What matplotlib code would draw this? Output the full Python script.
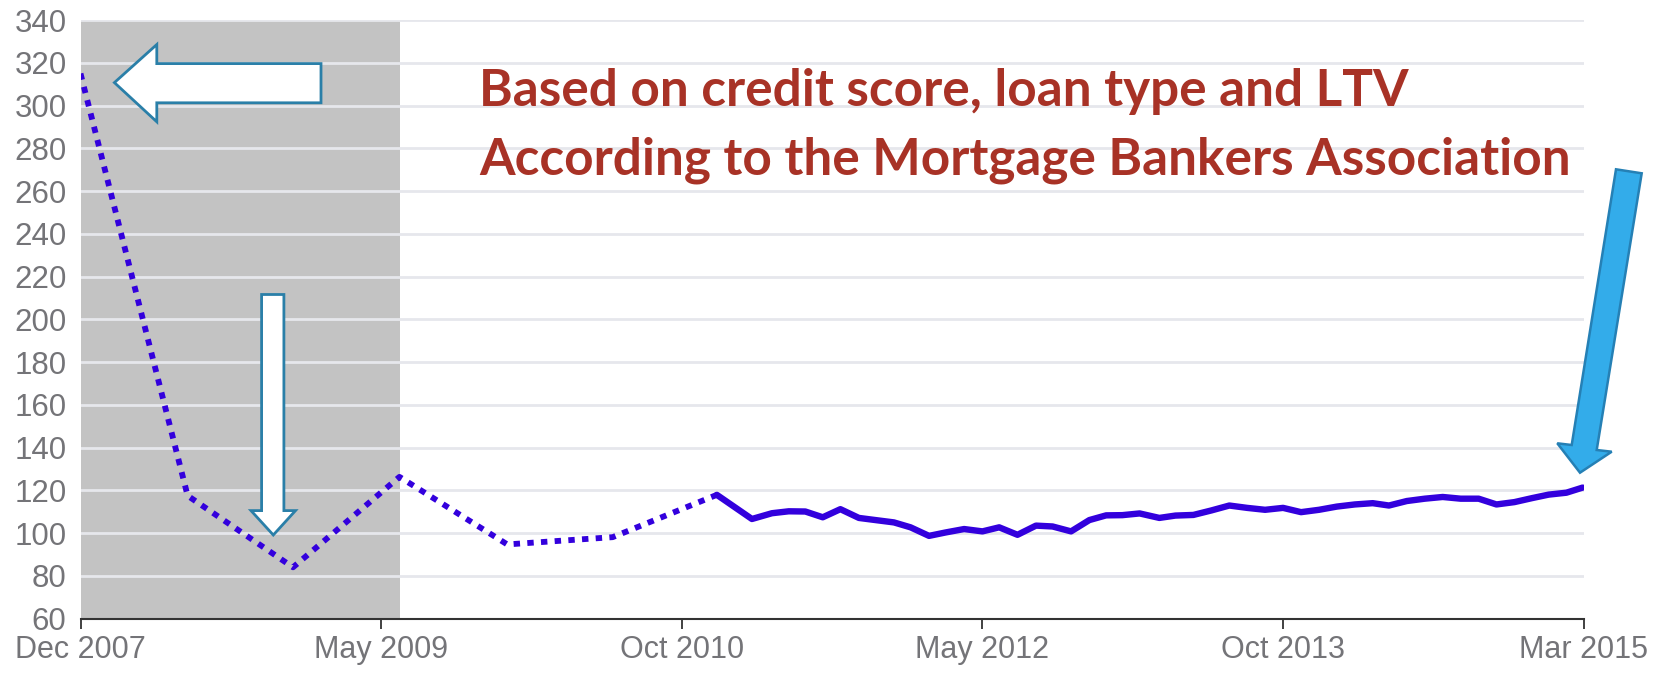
import matplotlib
matplotlib.use('Agg')
import matplotlib.pyplot as plt
from matplotlib.patches import Polygon
import numpy as np

# x = months on the chart's scale, 0 = Dec 2007, 87 = Mar 2015
dotted_x = [0.0, 6.2, 12.3, 18.46, 24.7, 30.8, 36.83]
dotted_y = [315, 117.5, 84, 126.3, 94.7, 98.1, 117.9]

solid_x = [36.83, 38.86, 40.02, 40.99, 41.95, 42.96, 43.98, 45.05, 46.01, 47.08,
           48.04, 49.11, 50.07, 51.14, 52.2, 53.17, 54.23, 55.3, 56.26, 57.33,
           58.39, 59.36, 60.3, 61.3, 62.44, 63.37, 64.41, 65.45, 66.49, 67.52,
           68.56, 69.6, 70.64, 71.68, 72.71, 73.75, 74.79, 75.73, 76.76, 77.8,
           78.84, 79.88, 80.92, 81.95, 82.99, 84.03, 84.97, 86.0, 86.94]
solid_y = [117.9, 106.6, 109.3, 110.2, 110.1, 107.4, 111.2, 107.1, 106.1, 105.0,
           102.7, 98.7, 100.3, 101.9, 100.8, 102.7, 99.2, 103.5, 103.1, 100.8,
           106.1, 108.3, 108.4, 109.2, 107.1, 108.2, 108.5, 110.6, 112.9, 111.8,
           110.9, 111.8, 109.8, 110.9, 112.4, 113.4, 114.0, 112.9, 115.0, 116.1,
           116.9, 116.1, 116.1, 113.4, 114.5, 116.4, 118.0, 118.9, 121.3]

tick_labels = ['Dec 2007', 'May 2009', 'Oct 2010', 'May 2012', 'Oct 2013', 'Mar 2015']
recession_end = 18.5

W, H = 1661, 673
LINE = '#3300dd'
GREY_TXT = '#747478'

fig = plt.figure(figsize=(W / 100, H / 100), dpi=100)
ax = fig.add_axes([80.5 / W, 1 - 618.6 / H, (1583.7 - 80.5) / W, (618.6 - 20.1) / H])

ax.axvspan(0, recession_end, color='#c3c3c3', zorder=0, lw=0)
for v in range(80, 341, 20):
    ax.axhline(v, color='#e6e7ec', lw=2, zorder=1)

ax.plot(dotted_x, dotted_y, color=LINE, lw=4.2, linestyle=(0, (1.1, 1.25)), zorder=3)
ax.plot(solid_x, solid_y, color=LINE, lw=4.6, solid_joinstyle='round',
        solid_capstyle='round', zorder=3)

ax.set_xlim(0, 87)
ax.set_ylim(60, 340)
ax.set_yticks(range(60, 341, 20))
ax.set_xticks(np.linspace(0, 87, len(tick_labels)))
ax.set_xticklabels(tick_labels)

for s in ['left', 'right', 'top']:
    ax.spines[s].set_visible(False)
ax.spines['bottom'].set_color('#333333')
ax.spines['bottom'].set_linewidth(1.5)
ax.tick_params(axis='y', length=0, pad=10, labelsize=22.5, labelcolor=GREY_TXT)
ax.tick_params(axis='x', length=7, width=1.3, color='#333333', pad=5,
               labelsize=22, labelcolor=GREY_TXT)
for lab in ax.get_xticklabels() + ax.get_yticklabels():
    lab.set_family('Liberation Sans')

# red annotation text, sized to match the original width
t1 = fig.text(478.8 / W, 1 - 106 / H, 'Based on credit score, loan type and LTV',
              color='#a83226', fontweight='bold', family='Lato', fontsize=36, va='baseline')
t2 = fig.text(478.8 / W, 1 - 175 / H, 'According to the Mortgage Bankers Association',
              color='#a83226', fontweight='bold', family='Lato', fontsize=36, va='baseline')
fig.canvas.draw()
w2 = t2.get_window_extent().width
fs = 36 * 1089 / w2
t1.set_fontsize(fs)
t2.set_fontsize(fs)


def px(pts):
    return [(x / W, 1 - y / H) for x, y in pts]


# left block arrow
left_arrow = [(114.4, 82.6), (156.8, 44.5), (156.8, 63.6), (321, 63.6),
              (321, 102.8), (156.8, 102.8), (156.8, 121.8)]
# down block arrow
down_arrow = [(261.6, 294.5), (283.9, 294.5), (283.9, 510.6), (295.5, 510.6),
              (273.3, 535), (251, 510.6), (261.6, 510.6)]
# blue diagonal arrow
blue_arrow = [(1616, 169.3), (1641.7, 173.3), (1596.7, 450), (1611.7, 451.7),
              (1580, 472.7), (1557.3, 443.3), (1571.7, 445)]

for pts in (left_arrow, down_arrow):
    fig.add_artist(Polygon(px(pts), closed=True, transform=fig.transFigure,
                           facecolor='white', edgecolor='#2a7fa8', lw=2, zorder=5))
fig.add_artist(Polygon(px(blue_arrow), closed=True, transform=fig.transFigure,
                       facecolor='#33acea', edgecolor='#2580b5', lw=1.8, zorder=5))

fig.savefig('out.png', dpi=100, facecolor='white')
